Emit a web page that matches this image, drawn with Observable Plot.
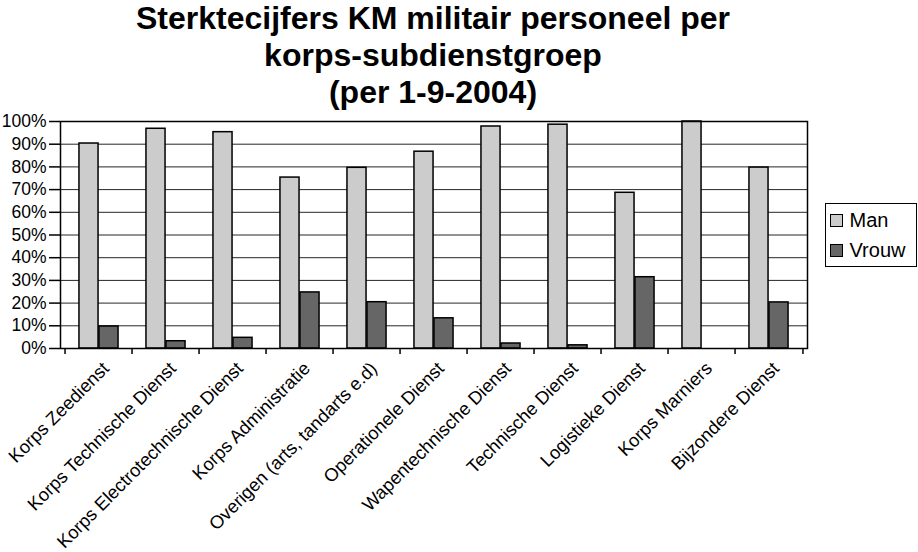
<!DOCTYPE html>
<html>
<head>
<meta charset="utf-8">
<script src="https://cdn.jsdelivr.net/npm/d3@7"></script>
<script src="https://cdn.jsdelivr.net/npm/@observablehq/plot@0.6"></script>
<style>
  html, body { margin: 0; padding: 0; background: #fff; }
  body { width: 918px; height: 552px; position: relative; overflow: hidden; font-family: "Liberation Sans", Arial, sans-serif; }
  #title { position: absolute; left: 0; top: 0; width: 866px; text-align: center; font-weight: bold; font-size: 32px; line-height: 37px; color: #000; }
  #chart { position: absolute; left: 0; top: 110px; }
  #legend { position: absolute; left: 825px; top: 203px; width: 92px; height: 64px; border: 1.5px solid #000; box-sizing: border-box; font-size: 20px; line-height: 20px; }
  .item { position: absolute; left: 3.5px; display: flex; align-items: center; }
  .sw { width: 13px; height: 13px; border: 1.5px solid #000; box-sizing: border-box; margin-right: 7px; }
</style>
</head>
<body>
<div id="title"></div>
<div id="chart"></div>
<div id="legend"></div>
<script>
const titleLines = ["Sterktecijfers KM militair personeel per", "korps-subdienstgroep", "(per 1-9-2004)"];
const categories = [
  "Korps Zeedienst",
  "Korps Technische Dienst",
  "Korps Electrotechnische Dienst",
  "Korps Administratie",
  "Overigen (arts, tandarts e.d)",
  "Operationele Dienst",
  "Wapentechnische Dienst",
  "Technische Dienst",
  "Logistieke Dienst",
  "Korps Marniers",
  "Bijzondere Dienst"
];
const series = ["Man", "Vrouw"];
const manValues   = [90.3, 96.8, 95.3, 75.3, 79.6, 86.7, 97.8, 98.6, 68.6, 100, 79.7];
const vrouwValues = [9.7, 3.2, 4.7, 24.7, 20.4, 13.3, 2.2, 1.4, 31.4, 0, 20.3];
const yTicks = [0, 10, 20, 30, 40, 50, 60, 70, 80, 90, 100];
const colors = ["#cccccc", "#666666"];

document.getElementById("title").innerHTML = titleLines.join("<br>");

const W = 918, H = 442, mL = 60, mR = 111, mT = 11, mB = 204;
const bw = (W - mL - mR) / categories.length;
const barW = 20;
const off = (bw - 2 * barW) / 2;

const rows = categories.map((c, i) => ({category: c, man: manValues[i], vrouw: vrouwValues[i]}));

const chart = Plot.plot({
  width: W, height: H,
  marginLeft: mL, marginRight: mR, marginTop: mT, marginBottom: mB,
  style: {fontFamily: '"Liberation Sans", Arial, sans-serif', fontSize: "17px", color: "#000", background: "#fff"},
  x: {type: "band", domain: categories, padding: 0},
  y: {domain: [0, 100]},
  marks: [
    Plot.gridY(yTicks, {stroke: "#000", strokeOpacity: 0.85, strokeWidth: 1}),
    Plot.barY(rows, {x: "category", y: "man", fill: colors[0], stroke: "#000", strokeWidth: 1.5, insetLeft: off, insetRight: bw - off - barW}),
    Plot.barY(rows.filter(d => d.vrouw > 0), {x: "category", y: "vrouw", fill: colors[1], stroke: "#000", strokeWidth: 1.5, insetLeft: off + barW, insetRight: off}),
    Plot.frame({stroke: "#000", strokeWidth: 1.5}),
    Plot.ruleX(categories, {x: d => d, dx: -bw / 2, y1: 0, y2: -2.6, stroke: "#000", strokeWidth: 1.5}),
    Plot.ruleX(categories.slice(-1), {x: d => d, dx: bw / 2, y1: 0, y2: -2.6, stroke: "#000", strokeWidth: 1.5}),
    Plot.axisY({ticks: yTicks, tickFormat: d => d + "%", tickSize: 11, tickPadding: 3, fontSize: 17.5, strokeWidth: 1.5, label: null}),
    Plot.axisX({tickSize: 0, tickRotate: -45, tickPadding: 8, fontSize: 18.3, label: null, dx: 7, dy: 9})
  ]
});
document.getElementById("chart").appendChild(chart);

const legend = document.getElementById("legend");
series.forEach((s, i) => {
  const it = document.createElement("div");
  it.className = "item";
  it.style.top = (i === 0 ? 6 : 36) + "px";
  it.innerHTML = `<div class="sw" style="background:${colors[i]}"></div><span>${s}</span>`;
  legend.appendChild(it);
});
</script>
</body>
</html>
